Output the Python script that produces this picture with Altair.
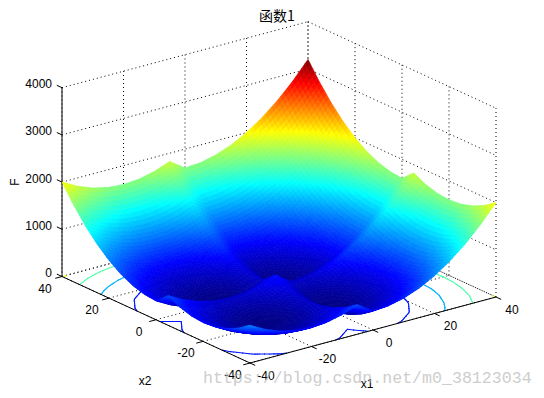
import altair as alt

# Values
x_nodes = list(range(-40, 41))
# height contributed by one coordinate, read along the surface's back edges
profile = [400, 365, 330, 295, 260, 225, 200, 175, 150, 125,
           100, 85, 70, 55, 40, 25, 20, 15, 10, 5,
           0, 5, 10, 15, 20, 25, 40, 55, 70, 85,
           100, 125, 150, 175, 200, 225, 180, 135, 90, 45,
           0, 5, 10, 15, 20, 25, 40, 55, 70, 85,
           100, 125, 150, 175, 200, 225, 260, 295, 330, 365,
           400, 445, 490, 535, 580, 625, 680, 735, 790, 845,
           900, 965, 1030, 1095, 1160, 1225, 1300, 1375, 1450, 1525,
           1600]
x_ticks = [-40, -20, 0, 20, 40]
z_ticks = [0, 1000, 2000, 3000, 4000]
contour_levels = [471.3, 951.3, 1461.3, 1951.3]
color_limit = 3200
title_text = "函数1"
x1_name = "x1"
x2_name = "x2"
z_name = "F"
watermark = "https://blog.csdn.net/m0_38123034"

# view geometry of the 3-D box
FRONT = (250.0, 363.0)
RIGHT = (496.0, 297.0)
LEFT = (62.0, 276.5)
Z_PX = 0.0472


def proj(x1, x2, z=0.0):
    a = (x1 + 40) / 80
    b = (x2 + 40) / 80
    return [FRONT[0] + a * (RIGHT[0] - FRONT[0]) + b * (LEFT[0] - FRONT[0]),
            FRONT[1] + a * (RIGHT[1] - FRONT[1]) + b * (LEFT[1] - FRONT[1]) - z * Z_PX]


def jet(t):
    clip = lambda v: max(0.0, min(1.0, v))
    return (clip(min(4 * t - 1.5, -4 * t + 4.5)),
            clip(min(4 * t - 0.5, -4 * t + 3.5)),
            clip(min(4 * t + 0.5, -4 * t + 2.5)))


def hexcolor(t):
    return "#%02x%02x%02x" % tuple(round(c * 255) for c in jet(t))


palette = [hexcolor(i / 256) for i in range(1, 257)]
n = len(x_nodes)
height = [[profile[i] + profile[j] for j in range(n)] for i in range(n)]


def line(points):
    return {"type": "Feature", "properties": {},
            "geometry": {"type": "LineString", "coordinates": points}}


# surface cells, back to front
cells = []
for i in range(n - 2, -1, -1):
    for j in range(n - 2, -1, -1):
        corners = [(i, j), (i + 1, j), (i + 1, j + 1), (i, j + 1), (i, j)]
        ring = [proj(x_nodes[a], x_nodes[b], height[a][b]) for a, b in corners]
        mean = sum(height[a][b] for a, b in corners[:4]) / 4
        cells.append({"type": "Feature", "properties": {"f": mean},
                      "geometry": {"type": "Polygon", "coordinates": [ring]}})


# floor contours
def contour_segments(level):
    segs = []
    for i in range(n - 1):
        for j in range(n - 1):
            pts = []
            corners = [(i, j), (i + 1, j), (i + 1, j + 1), (i, j + 1), (i, j)]
            for k in range(4):
                a, b = corners[k], corners[k + 1]
                za, zb = height[a[0]][a[1]], height[b[0]][b[1]]
                if (za - level) * (zb - level) < 0:
                    t = (level - za) / (zb - za)
                    pts.append(proj(x_nodes[a[0]] + t * (x_nodes[b[0]] - x_nodes[a[0]]),
                                    x_nodes[a[1]] + t * (x_nodes[b[1]] - x_nodes[a[1]])))
            if len(pts) >= 2:
                segs.append(line(pts[:2]))
            if len(pts) == 4:
                segs.append(line(pts[2:]))
    return segs


# dotted grid
grid = []
for t in x_ticks:
    grid.append(line([proj(t, -40), proj(t, 40)]))
    grid.append(line([proj(-40, t), proj(40, t)]))
    grid.append(line([proj(t, 40), proj(t, 40, 4000)]))
    grid.append(line([proj(40, t), proj(40, t, 4000)]))
for z in z_ticks:
    grid.append(line([proj(-40, 40, z), proj(40, 40, z)]))
    grid.append(line([proj(40, 40, z), proj(40, -40, z)]))

# solid axes and ticks
TICK = 2.2
axes = [line([proj(-40, 40), proj(-40, 40, 4000)]),
        line([proj(-40, 40), proj(-40, -40)]),
        line([proj(-40, -40), proj(40, -40)])]
for t in x_ticks:
    axes.append(line([proj(-40, t), proj(-40 - TICK, t)]))
    axes.append(line([proj(t, -40), proj(t, -40 - TICK)]))
for z in z_ticks:
    axes.append(line([proj(-40, 40, z), proj(-40, 40 + TICK, z)]))

labels = []
for t in x_ticks:
    px = proj(-40, t)
    labels.append({"x": px[0] - 17, "y": px[1] + 12, "t": str(t)})
    px = proj(t, -40)
    labels.append({"x": px[0] + 16, "y": px[1] + 12.5, "t": str(t)})
z_labels = []
for z in z_ticks:
    px = proj(-40, 40, z)
    z_labels.append({"x": px[0] - 10, "y": px[1] - 3.5, "t": str(z)})
names = [{"x": 145, "y": 381, "t": x2_name}, {"x": 367, "y": 384, "t": x1_name}]

identity = dict(type="identity", scale=1, translate=[-8, -8])
X = alt.X("x:Q", scale=alt.Scale(domain=[8, 536]), axis=None)
Y = alt.Y("y:Q", scale=alt.Scale(domain=[390, 8]), axis=None)
FONT = "Liberation Sans"

jet_scale = alt.Scale(type="quantize", domain=[0, color_limit], range=palette)

grid_layer = alt.Chart(alt.Data(values=grid)).mark_geoshape(
    filled=False, stroke="black", strokeWidth=1, strokeDash=[1, 3]).project(**identity)
contour_layers = [
    alt.Chart(alt.Data(values=contour_segments(lv))).mark_geoshape(
        filled=False, strokeWidth=1.1, strokeCap="round",
        stroke=hexcolor(lv / color_limit)).project(**identity)
    for lv in contour_levels]
axes_layer = alt.Chart(alt.Data(values=axes)).mark_geoshape(
    filled=False, stroke="black", strokeWidth=1).project(**identity)
surface_layer = alt.Chart(alt.Data(values=cells)).mark_geoshape(strokeWidth=0.7).encode(
    fill=alt.Fill("properties.f:Q", scale=jet_scale, legend=None),
    stroke=alt.Stroke("properties.f:Q", scale=jet_scale, legend=None)).project(**identity)

tick_text = alt.Chart(alt.Data(values=labels + names)).mark_text(
    font=FONT, fontSize=12, align="center", baseline="middle", color="black").encode(
    x=X, y=Y, text="t:N")
z_text = alt.Chart(alt.Data(values=z_labels)).mark_text(
    font=FONT, fontSize=12, align="right", baseline="middle", color="black").encode(
    x=X, y=Y, text="t:N")
z_title = alt.Chart(alt.Data(values=[{"x": 15, "y": 182, "t": z_name}])).mark_text(
    font=FONT, fontSize=12, angle=270, align="center", baseline="middle", color="black").encode(
    x=X, y=Y, text="t:N")
title = alt.Chart(alt.Data(values=[{"x": 277, "y": 17, "t": title_text}])).mark_text(
    font="Noto Sans CJK SC", fontSize=14, align="center", baseline="middle", color="black").encode(
    x=X, y=Y, text="t:N")
mark = alt.Chart(alt.Data(values=[{"x": 203, "y": 378, "t": watermark}])).mark_text(
    font="Liberation Mono", fontSize=16.6, align="left", baseline="middle", color="#b9b9b9", opacity=0.7).encode(
    x=X, y=Y, text="t:N")

chart = alt.layer(grid_layer, *contour_layers, axes_layer, surface_layer,
                  tick_text, z_text, z_title, title, mark).properties(
    width=528, height=382, padding=0, background="white",
    autosize=alt.AutoSizeParams(type="none")
).configure_view(strokeWidth=0)

chart.save("out.html", embed_options={"renderer": "svg", "actions": False})
